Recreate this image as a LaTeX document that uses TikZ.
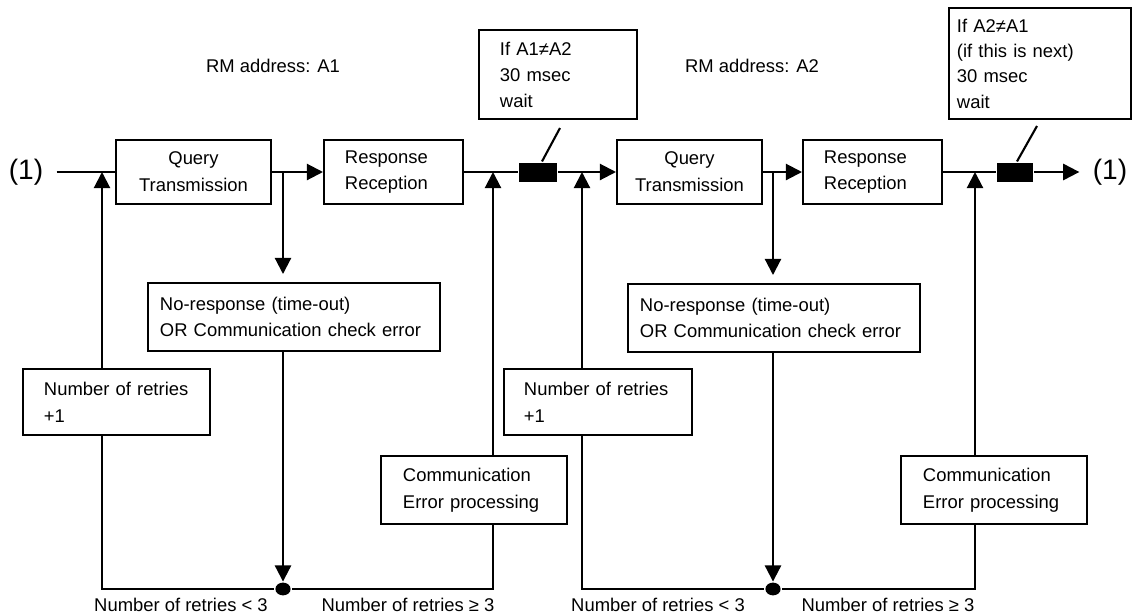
\documentclass[tikz,border=0pt]{standalone}
\usepackage{fontspec}
\setmainfont{Liberation Sans}
\usetikzlibrary{arrows.meta,shapes.geometric}

\begin{document}
\begin{tikzpicture}[x=0.025cm,y=-0.025cm,line width=1.5pt,
		every node/.style={font=\fontsize{13.1pt}{19pt}\selectfont},
		box/.style={draw,line width=1.4pt,align=left,minimum height=1.6cm},
		blk/.style={fill=black,minimum width=0.95cm,minimum height=0.475cm,inner sep=0pt},
		dot/.style={ellipse,fill=black,minimum width=0.38cm,minimum height=0.32cm,inner sep=0pt},
		ref/.style={inner xsep=0.31cm,font=\fontsize{20pt}{24pt}\selectfont},
		arr/.style={-{Triangle[length=11.5pt,width=11.5pt]}}]
	\useasboundingbox (0,0) rectangle (1134,614);
	
	% 上方方框
	\node[box,align=center,minimum width=3.875cm] (q1) at (193.5,172) {Query\\Transmission};
	\node[box,text width=2.425cm,inner xsep=0.525cm] (r1) at (393.5,172) {Response\\Reception};
	\node[box,align=center,minimum width=3.625cm] (q2) at (689.5,172) {Query\\Transmission};
	\node[box,text width=2.425cm,inner xsep=0.525cm] (r2) at (872.5,172) {Response\\Reception};
	\node[blk] (blk1) at (538,172) {};
	\node[blk,minimum width=0.9cm] (blk2) at (1015,172) {};
	\node[ref] (in1) at (26,172) {(1)};
	\node[ref] (out1) at (1110,172) {(1)};
	
	% 等待说明
	\node[box,text width=2.9cm,inner xsep=0.525cm,minimum height=2.225cm,
		font=\fontsize{13.1pt}{18.5pt}\selectfont] (w1) at (558,74.5) {If A1≠A2\\30 msec\\wait};
	\node[box,text width=4.15cm,inner xsep=0.2cm,minimum height=2.775cm,
		font=\fontsize{13.1pt}{18pt}\selectfont] (w2) at (1040,63.5) {If A2≠A1\\(if this is next)\\30 msec\\wait};
	\node (rm1) at (273,66) {RM address: A1};
	\node (rm2) at (752,66) {RM address: A2};
	
	% 下方方框
	\node[box,text width=6.7cm,inner xsep=0.3cm,minimum height=1.7cm] (nr1) at (294,317) {No-response (time-out)\\OR Communication check error};
	\node[box,text width=6.7cm,inner xsep=0.3cm,minimum height=1.7cm] (nr2) at (774,318) {No-response (time-out)\\OR Communication check error};
	\node[box,text width=3.625cm,inner xsep=0.525cm,minimum height=1.65cm] (n1) at (116.5,402) {Number of retries\\+1};
	\node[box,text width=3.7cm,inner xsep=0.5cm,minimum height=1.65cm] (n2) at (598,402) {Number of retries\\+1};
	\node[box,text width=3.55cm,inner xsep=0.55cm,minimum height=1.7cm] (c1) at (474,490) {Communication\\Error processing};
	\node[box,text width=3.55cm,inner xsep=0.55cm,minimum height=1.7cm] (c2) at (994,490) {Communication\\Error processing};
	\node[dot] (d1) at (283,589) {};
	\node[dot] (d2) at (773,589) {};
	
	% 交点
	\coordinate (ja) at (102,172);
	\coordinate (jb) at (283,172);
	\coordinate (jc) at (493,172);
	\coordinate (jd) at (582,172);
	\coordinate (je) at (773,172);
	\coordinate (jf) at (975,172);
	
	% 主线
	\draw (in1) -- (q1);
	\draw[arr] (q1) -- (r1);
	\draw (r1) -- (blk1);
	\draw[arr] (blk1) -- (q2);
	\draw[arr] (q2) -- (r2);
	\draw (r2) -- (blk2);
	\draw[arr] (blk2) -- (out1);
	\draw ([shift={(2,8)}]w1.south) -- ([xshift=0.1cm]blk1.north);
	\draw ([shift={(-3,6)}]w2.south) -- ([xshift=0.05cm]blk2.north);
	
	% 分支与重试
	\draw[arr,shorten >=0.2cm] (jb) -- (nr1.north -| jb);
	\draw[arr,shorten >=0.2cm] (je) -- (nr2.north -| je);
	\draw[arr] (n1.north -| ja) -- (ja);
	\draw[arr] (c1.north -| jc) -- (jc);
	\draw[arr] (n2.north -| jd) -- (jd);
	\draw[arr] (c2.north -| jf) -- (jf);
	\draw[arr] (nr1.south -| d1) -- (d1.north);
	\draw[arr] (nr2.south -| d2) -- (d2.north);
	\draw (n1.south -| ja) |- (d1);
	\draw (c1.south -| jc) |- (d1);
	\draw (n2.south -| jd) |- (d2);
	\draw (c2.south -| jf) |- (d2);
	
	% 条件标签
	\node (lt1) at (181,605) {Number of retries < 3};
	\node (ge1) at (408,605) {Number of retries ≥ 3};
	\node (lt2) at (658,605) {Number of retries < 3};
	\node (ge2) at (888,605) {Number of retries ≥ 3};
\end{tikzpicture}
\end{document}
